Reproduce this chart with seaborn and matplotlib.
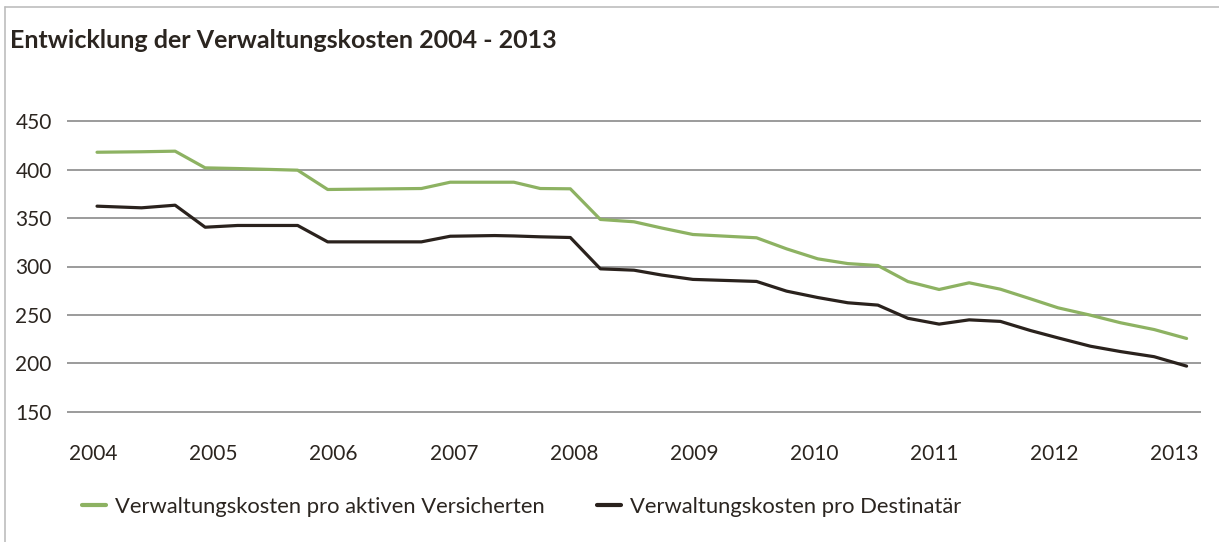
import pandas as pd
import matplotlib.pyplot as plt
import seaborn as sns
from matplotlib.lines import Line2D

# Werte (x in Dezimaljahren)
jahre = [2004.03, 2004.40, 2004.68, 2004.93, 2005.20, 2005.70, 2005.95, 2006.73,
         2006.97, 2007.34, 2007.50, 2007.72, 2007.97, 2008.22, 2008.50, 2008.73,
         2008.99, 2009.52, 2009.77, 2010.03, 2010.28, 2010.53, 2010.78, 2011.04,
         2011.29, 2011.55, 2011.80, 2012.03, 2012.30, 2012.55, 2012.83, 2013.10]

aktive = [417.8, 418.3, 418.9, 401.7, 401.0, 399.3, 379.4, 380.4,
          386.9, 386.9, 386.9, 380.4, 380.1, 348.5, 346.1, 339.7,
          333.0, 329.6, 318.2, 307.9, 303.0, 301.0, 284.5, 276.3,
          283.2, 276.6, 266.7, 257.4, 249.8, 242.0, 235.0, 225.8]

destinataer = [362.2, 360.5, 363.2, 340.5, 342.3, 342.3, 325.4, 325.4,
               331.2, 331.9, 331.5, 330.6, 329.9, 297.6, 296.2, 291.2,
               286.7, 284.6, 274.6, 268.0, 262.6, 260.2, 246.6, 240.6,
               245.0, 243.4, 234.0, 226.4, 217.8, 212.3, 207.0, 197.3]

tick_jahre = list(range(2004, 2014))
y_ticks = [150, 200, 250, 300, 350, 400, 450]

label_aktiv = "Verwaltungskosten pro aktiven Versicherten"
label_dest = "Verwaltungskosten pro Destinatär"

GREEN = "#8db262"
DARK = "#2a221d"
TEXT = "#2b2520"

df = pd.concat([
    pd.DataFrame({"Jahr": jahre, "Kosten": aktive, "Reihe": label_aktiv}),
    pd.DataFrame({"Jahr": jahre, "Kosten": destinataer, "Reihe": label_dest}),
])

sns.set_theme(style="white")
plt.rcParams['font.family'] = ['Lato', 'DejaVu Sans']

W, H = 1219, 542
fig = plt.figure(figsize=(W / 100, H / 100), dpi=100)
fig.patch.set_facecolor("white")

# Achsenbereich in Pixeln der Vorlage
left, right = 67, 1201
top, bottom = 118.1, 414.9
ax = fig.add_axes([left / W, 1 - bottom / H, (right - left) / W, (bottom - top) / H])

sns.lineplot(data=df, x="Jahr", y="Kosten", hue="Reihe", sort=False,
             palette={label_aktiv: GREEN, label_dest: DARK},
             linewidth=2.3, ax=ax, estimator=None)

ax.set_xlim(2003.78, 2013.22)
ax.set_ylim(147, 453)
ax.set_yticks(y_ticks)
ax.set_xticks(tick_jahre)
ax.set_xticklabels([str(j) for j in tick_jahre])
ax.set_xlabel("")
ax.set_ylabel("")
for s in ax.spines.values():
    s.set_visible(False)
ax.grid(axis="y", color="#8a8a8a", linewidth=1.2)
ax.grid(axis="x", visible=False)
ax.set_axisbelow(True)
ax.tick_params(axis="both", length=0, labelsize=15, colors=TEXT)
ax.tick_params(axis="y", pad=11)
ax.tick_params(axis="x", pad=21)

handles, labels = ax.get_legend_handles_labels()
ax.get_legend().remove()
leg = fig.legend(handles, labels, loc="center left",
                 bbox_to_anchor=(82 / W, 1 - 507 / H), ncol=2, frameon=False,
                 fontsize=15.8, handlelength=1.1, handletextpad=0.4,
                 columnspacing=2.4, borderpad=0, borderaxespad=0)
for t in leg.get_texts():
    t.set_color(TEXT)
for h in leg.legend_handles:
    h.set_linewidth(3)

fig.text(10 / W, 1 - 48 / H, "Entwicklung der Verwaltungskosten 2004 - 2013",
         fontsize=18, fontweight="bold", color=TEXT, va="baseline", ha="left")

# Rahmen oben und links
fig.add_artist(Line2D([5 / W, 1], [1 - 7 / H, 1 - 7 / H], color="#bdbdbd",
                      linewidth=1.2, transform=fig.transFigure))
fig.add_artist(Line2D([5 / W, 5 / W], [0, 1 - 7 / H], color="#bdbdbd",
                      linewidth=1.2, transform=fig.transFigure))

fig.savefig("out.png", dpi=100, facecolor="white")
